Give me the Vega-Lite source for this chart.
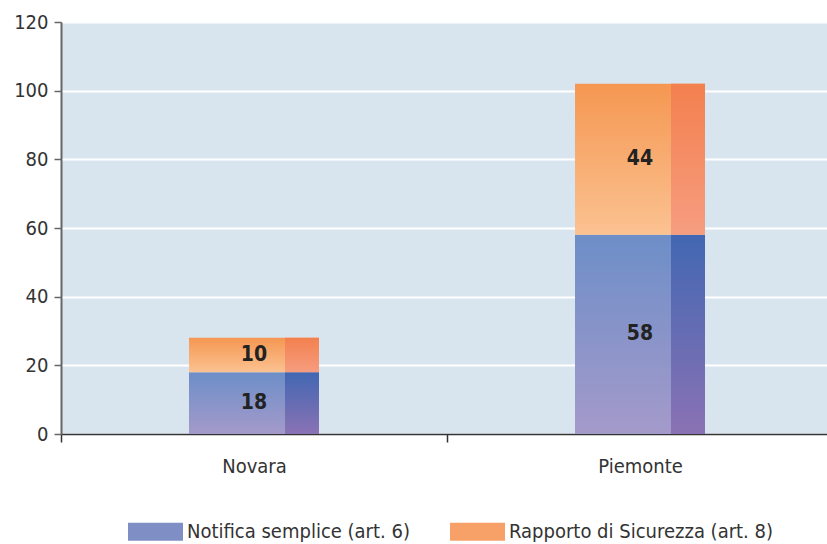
{
  "$schema": "https://vega.github.io/schema/vega-lite/v6.json",
  "width": 772,
  "height": 412,
  "autosize": {"type": "none"},
  "padding": {"left": 61, "top": 22, "right": 0, "bottom": 110},
  "background": "white",
  "config": {
    "view": {"fill": "#d9e5ee", "stroke": null},
    "font": "DejaVu Sans Condensed, sans-serif"
  },
  "data": {
    "values": [
      {"region": "Novara", "series": "Notifica semplice (art. 6)", "value": 18, "order": 1},
      {"region": "Novara", "series": "Rapporto di Sicurezza (art. 8)", "value": 10, "order": 2},
      {"region": "Piemonte", "series": "Notifica semplice (art. 6)", "value": 58, "order": 1},
      {"region": "Piemonte", "series": "Rapporto di Sicurezza (art. 8)", "value": 44, "order": 2}
    ]
  },
  "transform": [
    {"stack": "value", "groupby": ["region"], "sort": [{"field": "order"}], "as": ["y0", "y1"]},
    {"calculate": "(datum.y0 + datum.y1) / 2", "as": "mid"}
  ],
  "encoding": {
    "x": {
      "field": "region", "type": "nominal", "sort": ["Novara", "Piemonte"],
      "scale": {"paddingInner": 0, "paddingOuter": 0},
      "axis": {
        "title": null, "labelAngle": 0, "labelFontSize": 20, "labelColor": "#333",
        "domainColor": "#333", "domainWidth": 1.5, "tickColor": "#333", "tickWidth": 1.5,
        "tickSize": 8, "tickBand": "extent", "labelPadding": 14, "grid": false
      }
    }
  },
  "layer": [
    {
      "mark": {"type": "bar", "size": 130},
      "encoding": {
        "y": {
          "field": "y0", "type": "quantitative",
          "scale": {"domain": [0, 120], "nice": false},
          "axis": {
            "title": null, "values": [0, 20, 40, 60, 80, 100, 120],
            "labelFontSize": 20, "labelColor": "#333", "labelPadding": 6,
            "domainColor": "#666", "domainWidth": 2, "tickColor": "#666", "tickWidth": 1.5, "tickSize": 7,
            "gridColor": "white", "gridWidth": 2, "gridOpacity": 1
          }
        },
        "y2": {"field": "y1"},
        "fill": {
          "condition": {
            "test": "datum.series === 'Notifica semplice (art. 6)'",
            "value": {"gradient": "linear", "x1": 0, "y1": 0, "x2": 0, "y2": 1,
              "stops": [{"offset": 0, "color": "#6d8ec8"}, {"offset": 1, "color": "#a49aca"}]}
          },
          "value": {"gradient": "linear", "x1": 0, "y1": 0, "x2": 0, "y2": 1,
            "stops": [{"offset": 0, "color": "#f59752"}, {"offset": 1, "color": "#fbc291"}]}
        }
      }
    },
    {
      "mark": {"type": "bar", "size": 34, "xOffset": 48},
      "encoding": {
        "y": {"field": "y0", "type": "quantitative"},
        "y2": {"field": "y1"},
        "fill": {
          "condition": {
            "test": "datum.series === 'Notifica semplice (art. 6)'",
            "value": {"gradient": "linear", "x1": 0, "y1": 0, "x2": 0, "y2": 1,
              "stops": [{"offset": 0, "color": "#4267b2"}, {"offset": 1, "color": "#8a72b4"}]}
          },
          "value": {"gradient": "linear", "x1": 0, "y1": 0, "x2": 0, "y2": 1,
            "stops": [{"offset": 0, "color": "#f3804e"}, {"offset": 1, "color": "#f69d80"}]}
        }
      }
    },
    {
      "mark": {"type": "bar", "size": 130, "opacity": 0},
      "encoding": {
        "y": {"field": "y0", "type": "quantitative"},
        "y2": {"field": "y1"},
        "color": {
          "field": "series", "type": "nominal",
          "scale": {"domain": ["Notifica semplice (art. 6)", "Rapporto di Sicurezza (art. 8)"], "range": ["#7f8fc6", "#f7a067"]},
          "legend": {
            "title": null, "orient": "none", "direction": "horizontal",
            "legendX": 67, "legendY": 482,
            "symbolType": "M-1,-0.33H1V0.33H-1Z", "symbolSize": 3025,
            "symbolOpacity": 1, "symbolStrokeWidth": 0,
            "labelFontSize": 20, "labelColor": "#333", "labelOffset": 4,
            "columnPadding": 40, "labelLimit": 400
          }
        }
      }
    },
    {
      "mark": {"type": "text", "fontSize": 21, "fontWeight": "bold", "color": "#222", "baseline": "middle"},
      "encoding": {
        "y": {"field": "mid", "type": "quantitative"},
        "text": {"field": "value", "type": "quantitative"}
      }
    }
  ]
}
